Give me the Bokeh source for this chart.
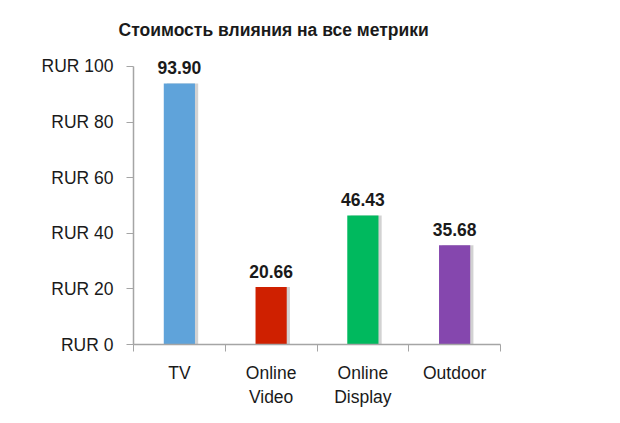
from bokeh.plotting import figure
from bokeh.models import FixedTicker, Range1d, ColumnDataSource
from bokeh.core.properties import value
from bokeh.embed import file_html
from bokeh.resources import INLINE

title_text = "Стоимость влияния на все метрики"
categories = ["TV", "Online\nVideo", "Online\nDisplay", "Outdoor"]
values = [93.90, 20.66, 46.43, 35.68]
colors = ["#5FA3DA", "#CF2000", "#00B95E", "#8547AE"]
y_ticks = [0, 20, 40, 60, 80, 100]
y_tick_labels = ["RUR 0", "RUR 20", "RUR 40", "RUR 60", "RUR 80", "RUR 100"]

FONT = "Liberation Sans"
TEXT = "#1A1A1A"
AXIS = "#A5A5A5"

xs = [i + 0.5 for i in range(len(categories))]
bounds = [float(i) for i in range(len(categories) + 1)]
labels = ["%.2f" % v for v in values]

src = ColumnDataSource(dict(x=xs, top=values, color=colors, label=labels,
                            xs=[x + 0.035 for x in xs]))

p = figure(width=600, height=412,
           x_range=Range1d(0, len(categories)), y_range=Range1d(0, 107.9),
           output_backend="svg", toolbar_location=None,
           min_border_left=133, min_border_right=100,
           min_border_top=44, min_border_bottom=68)

p.title.text = title_text
p.title.text_font = FONT
p.title.text_font_size = "17.5px"
p.title.text_font_style = "bold"
p.title.text_color = TEXT
p.title.align = "left"
p.title.offset = -15

p.outline_line_color = None
p.xgrid.grid_line_color = None
p.ygrid.grid_line_color = None

# shadows
p.vbar(x="xs", top="top", bottom=0, width=0.34, source=src,
       fill_color="#7F7F7F", fill_alpha=0.35, line_color=None)
p.vbar(x="x", top="top", bottom=0, width=0.34, source=src,
       fill_color="color", line_color=None)

p.text(x="x", y="top", text="label", source=src,
       text_align="center", text_baseline="alphabetic", y_offset=-16,
       text_font=value(FONT), text_font_size="17.5px", text_font_style="bold",
       text_color=TEXT)

xa = p.xaxis[0]
xa.ticker = FixedTicker(ticks=xs, minor_ticks=bounds)
xa.major_label_overrides = {x: c for x, c in zip(xs, categories)}
xa.major_tick_line_color = None
xa.minor_tick_in = 0
xa.minor_tick_out = 7
xa.minor_tick_line_color = AXIS
xa.axis_line_color = AXIS
xa.axis_line_width = 1.5
xa.major_label_text_font = FONT
xa.major_label_text_font_size = "17.5px"
xa.major_label_text_color = TEXT
xa.major_label_standoff = 11

ya = p.yaxis[0]
ya.ticker = FixedTicker(ticks=y_ticks, minor_ticks=[])
ya.major_label_overrides = {t: l for t, l in zip(y_ticks, y_tick_labels)}
ya.bounds = (0, 100)
ya.major_tick_in = 0
ya.major_tick_out = 7
ya.major_tick_line_color = AXIS
ya.axis_line_color = AXIS
ya.axis_line_width = 1.5
ya.major_label_text_font = FONT
ya.major_label_text_font_size = "17.5px"
ya.major_label_text_color = TEXT
ya.major_label_standoff = 13

open("out.html", "w").write(file_html(p, INLINE))
